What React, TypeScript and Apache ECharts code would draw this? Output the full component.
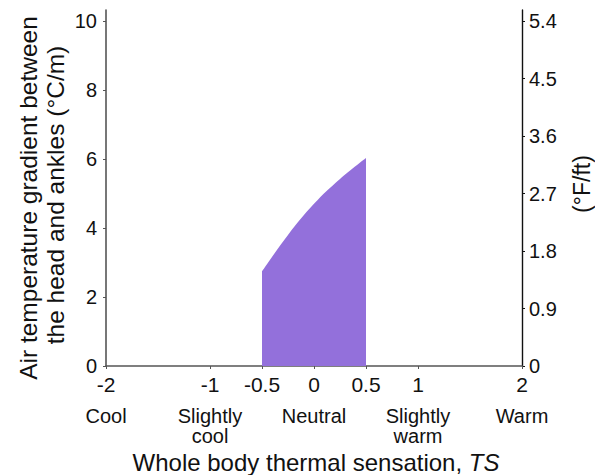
import React, { useEffect, useRef } from "react";
import * as echarts from "echarts";

// Data
const tsValues = [-0.5, -0.25, 0, 0.25, 0.5];
const gradientValues = [2.74, 3.8, 4.7, 5.42, 6.03];
const xTickValues = [-2, -1, -0.5, 0, 0.5, 1, 2];
const sensationValues = [-2, -1, 0, 1, 2];
const sensationLabels = ["Cool", "Slightly\ncool", "Neutral", "Slightly\nwarm", "Warm"];
const leftTicks = [0, 2, 4, 6, 8, 10];
const rightTicks = [0, 0.9, 1.8, 2.7, 3.6, 4.5, 5.4];

const FONT = "'Liberation Sans', Arial, Helvetica, sans-serif";

export default function App() {
  const ref = useRef<HTMLDivElement>(null);
  useEffect(() => {
    if (!ref.current) return;
    const chart = echarts.init(ref.current, undefined, { renderer: "svg" });
    const leftMax = 10.32;
    const rightMax = leftMax * 0.54;
    chart.setOption({
      animation: false,
      textStyle: { fontFamily: FONT },
      grid: { left: 106, right: 73, top: 10, bottom: 109, containLabel: false },
      xAxis: [
        {
          type: "value",
          min: -2,
          max: 2,
          position: "bottom",
          splitLine: { show: false },
          axisLine: { show: true, onZero: false, lineStyle: { color: "#555", width: 1.6 } },
          axisTick: { show: true, length: 3, customValues: xTickValues, lineStyle: { color: "#555" } },
          axisLabel: {
            customValues: xTickValues,
            formatter: (v: number) => String(v),
            margin: 8,
            fontSize: 21,
            color: "#111",
            fontFamily: FONT,
          },
        },
        {
          type: "value",
          min: -2,
          max: 2,
          position: "bottom",
          splitLine: { show: false },
          axisLine: { show: false },
          axisTick: { show: false },
          axisLabel: {
            customValues: sensationValues,
            formatter: (v: number) => sensationLabels[sensationValues.indexOf(v)] ?? "",
            margin: 40,
            fontSize: 20,
            lineHeight: 20,
            color: "#111",
            fontFamily: FONT,
          },
        },
      ],
      yAxis: [
        {
          type: "value",
          min: 0,
          max: leftMax,
          position: "left",
          splitLine: { show: false },
          axisLine: { show: true, onZero: false, lineStyle: { color: "#555", width: 1.6 } },
          axisTick: { show: true, length: 3, customValues: leftTicks, lineStyle: { color: "#555" } },
          axisLabel: {
            customValues: leftTicks,
            formatter: (v: number) => String(v),
            margin: 9,
            fontSize: 20,
            color: "#111",
            fontFamily: FONT,
          },
        },
        {
          type: "value",
          min: 0,
          max: rightMax,
          position: "right",
          splitLine: { show: false },
          axisLine: { show: true, onZero: false, lineStyle: { color: "#111", width: 1.4 } },
          axisTick: { show: true, length: 3, customValues: rightTicks, lineStyle: { color: "#111" } },
          axisLabel: {
            customValues: rightTicks,
            formatter: (v: number) => (v === 0 ? "0" : v.toFixed(1)),
            margin: 7,
            fontSize: 20,
            color: "#111",
            fontFamily: FONT,
          },
        },
      ],
      series: [
        {
          type: "line",
          xAxisIndex: 0,
          yAxisIndex: 0,
          data: tsValues.map((x, i) => [x, gradientValues[i]]),
          smooth: 0.4,
          showSymbol: false,
          lineStyle: { width: 0, color: "#9370DB" },
          areaStyle: { color: "#9370DB", opacity: 1 },
          silent: true,
        },
      ],
      graphic: [
        {
          type: "text",
          x: 28,
          y: 198,
          rotation: Math.PI / 2,
          style: {
            text: "Air temperature gradient between",
            fontSize: 24.5,
            fontFamily: FONT,
            fill: "#111",
            align: "center",
            verticalAlign: "middle",
          },
        },
        {
          type: "text",
          x: 55,
          y: 195,
          rotation: Math.PI / 2,
          style: {
            text: "the head and ankles (°C/m)",
            fontSize: 24.5,
            fontFamily: FONT,
            fill: "#111",
            align: "center",
            verticalAlign: "middle",
          },
        },
        {
          type: "text",
          x: 582,
          y: 184,
          rotation: Math.PI / 2,
          style: {
            text: "(°F/ft)",
            fontSize: 23,
            fontFamily: FONT,
            fill: "#111",
            align: "center",
            verticalAlign: "middle",
          },
        },
        {
          type: "text",
          x: 316,
          y: 462,
          style: {
            text: "Whole body thermal sensation, {i|TS}",
            fontSize: 24,
            fontFamily: FONT,
            fill: "#111",
            align: "center",
            verticalAlign: "middle",
            rich: {
              i: { fontStyle: "italic", fontSize: 24, fontFamily: FONT, fill: "#111" },
            },
          },
        },
      ],
    });
    return () => chart.dispose();
  }, []);
  return <div ref={ref} style={{ width: 595, height: 475, position: "absolute", left: 0, top: 0, background: "#fff" }} />;
}
